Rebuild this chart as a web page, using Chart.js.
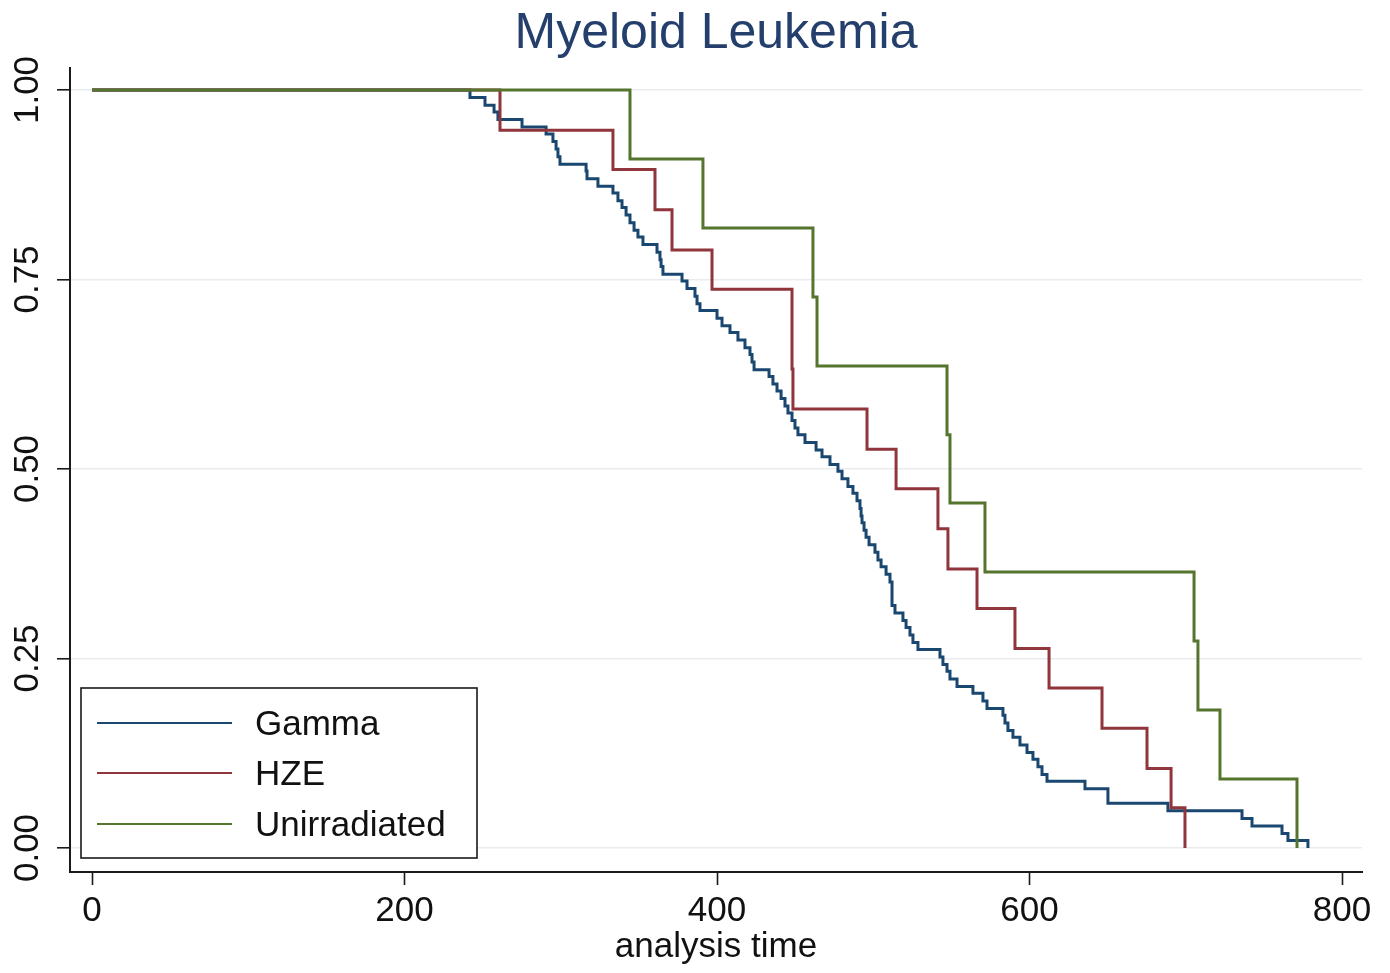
<!DOCTYPE html>
<html>
<head>
<meta charset="utf-8">
<title>Myeloid Leukemia</title>
<script src="https://cdn.jsdelivr.net/npm/chart.js@4/dist/chart.umd.min.js"></script>
<style>
  html, body { margin: 0; padding: 0; background: #ffffff; }
  #wrap { width: 1390px; height: 973px; }
</style>
</head>
<body>
<div id="wrap"><canvas id="km" width="1390" height="973"></canvas></div>
<script>
// Kaplan-Meier survival estimates: time of each drop and survival after it.
const seriesNames = ['Gamma', 'HZE', 'Unirradiated'];

const gammaTimes = [0, 241.9, 251.5, 257.3, 259.8, 275.2, 290.6, 295.0, 297.0, 298.2, 299.5,
  316.2, 316.8, 323.8, 333.4, 336.6, 339.2, 341.8, 344.3, 346.9, 349.4, 352.6,
  361.6, 363.5, 364.2, 365.4, 377.6, 380.8, 385.9, 387.2, 389.1, 400.0, 403.2,
  408.3, 413.4, 417.9, 421.1, 422.4, 423.7, 433.3, 435.8, 438.4, 441.0, 443.5,
  445.4, 448.0, 449.9, 451.8, 456.3, 463.4, 467.2, 472.3, 477.4, 480.0, 483.8,
  487.0, 489.6, 491.5, 492.2, 492.8, 494.1, 495.4, 497.3, 501.1, 503.0, 505.0,
  508.2, 510.7, 512.0, 513.9, 519.0, 521.0, 523.5, 525.4, 528.6, 542.7, 544.6,
  547.2, 549.1, 553.6, 563.8, 570.2, 572.8, 583.0, 584.3, 586.2, 589.4, 593.9,
  598.4, 602.2, 605.4, 608.0, 611.2, 635.5, 650.2, 688.6, 736.0, 742.4, 761.6,
  765.4, 778.2];
const gammaSurv = [1.000, 0.990, 0.980, 0.971, 0.961, 0.951, 0.942, 0.932, 0.922, 0.912, 0.902,
  0.893, 0.883, 0.873, 0.864, 0.854, 0.845, 0.835, 0.825, 0.815, 0.806, 0.796,
  0.786, 0.776, 0.767, 0.757, 0.748, 0.738, 0.728, 0.718, 0.709, 0.699, 0.689,
  0.680, 0.670, 0.660, 0.651, 0.641, 0.631, 0.622, 0.612, 0.603, 0.593, 0.583,
  0.574, 0.564, 0.554, 0.545, 0.535, 0.525, 0.516, 0.506, 0.497, 0.487, 0.477,
  0.468, 0.458, 0.448, 0.438, 0.429, 0.419, 0.410, 0.400, 0.390, 0.380, 0.371,
  0.361, 0.351, 0.320, 0.310, 0.300, 0.291, 0.281, 0.271, 0.262, 0.252, 0.242,
  0.233, 0.223, 0.213, 0.204, 0.194, 0.184, 0.175, 0.165, 0.155, 0.146, 0.136,
  0.126, 0.117, 0.107, 0.097, 0.088, 0.078, 0.059, 0.049, 0.039, 0.029, 0.019,
  0.010, 0.000];

const hzeTimes = [0, 261.1, 333.4, 360.3, 371.2, 396.8, 448.0, 448.6, 496.0, 514.6,
  541.4, 547.8, 566.4, 590.7, 612.5, 646.4, 675.2, 690.6, 699.5];
const hzeSurv = [1.000, 0.947, 0.895, 0.842, 0.789, 0.737, 0.632, 0.579, 0.526, 0.474,
  0.421, 0.368, 0.316, 0.263, 0.211, 0.158, 0.105, 0.053, 0.000];

const unirrTimes = [0, 344.3, 391.0, 461.4, 464.0, 547.2, 549.1, 571.5, 705.3, 707.8, 721.9, 771.2];
const unirrSurv = [1.000, 0.909, 0.818, 0.727, 0.636, 0.545, 0.455, 0.364, 0.273, 0.182, 0.091, 0.000];

const xTickValues = [0, 200, 400, 600, 800];
const yTickValues = [0, 0.25, 0.5, 0.75, 1];
const yTickLabels = ['0.00', '0.25', '0.50', '0.75', '1.00'];

const FONT = "'Liberation Sans', Arial, Helvetica, sans-serif";
const colors = ['#1a476f', '#90353b', '#55752f'];

const toPoints = (ts, ss) => ts.map((t, i) => ({ x: t, y: ss[i] }));

const datasets = [
  { label: seriesNames[0], data: toPoints(gammaTimes, gammaSurv), borderColor: colors[0], order: 2 },
  { label: seriesNames[1], data: toPoints(hzeTimes, hzeSurv), borderColor: colors[1], order: 1 },
  { label: seriesNames[2], data: toPoints(unirrTimes, unirrSurv), borderColor: colors[2], order: 0 }
].map(d => Object.assign(d, {
  stepped: 'before', borderWidth: 3, pointRadius: 0, fill: false, tension: 0,
  borderJoinStyle: 'miter', borderCapStyle: 'butt'
}));

// Title, rotated y labels and the boxed legend.
const decorations = {
  id: 'decorations',
  afterDraw(chart) {
    const { ctx, chartArea } = chart;
    const yScale = chart.scales.y;
    ctx.save();

    // title
    ctx.fillStyle = '#243f6c';
    ctx.font = `50px ${FONT}`;
    ctx.textAlign = 'center';
    ctx.textBaseline = 'middle';
    ctx.fillText('Myeloid Leukemia', (chartArea.left + chartArea.right) / 2, 34);

    // y tick labels, reading upward
    ctx.fillStyle = '#111111';
    ctx.font = `35px ${FONT}`;
    yTickValues.forEach((v, i) => {
      const py = yScale.getPixelForValue(v);
      ctx.save();
      ctx.translate(28, py);
      ctx.rotate(-Math.PI / 2);
      ctx.textAlign = 'center';
      ctx.textBaseline = 'middle';
      ctx.fillText(yTickLabels[i], 0, 0);
      ctx.restore();
    });

    // legend
    const lx = chartArea.left + 11, lw = 396, lh = 170;
    const ly = chartArea.bottom - 14 - lh;
    ctx.fillStyle = '#ffffff';
    ctx.fillRect(lx, ly, lw, lh);
    ctx.strokeStyle = '#1a1a1a';
    ctx.lineWidth = 1.6;
    ctx.strokeRect(lx, ly, lw, lh);
    const rows = [35, 85, 136];
    chart.data.datasets.forEach((ds, i) => {
      const ry = ly + rows[i];
      ctx.strokeStyle = ds.borderColor;
      ctx.lineWidth = 2.2;
      ctx.beginPath();
      ctx.moveTo(lx + 16, ry);
      ctx.lineTo(lx + 151, ry);
      ctx.stroke();
      ctx.fillStyle = '#111111';
      ctx.font = `35px ${FONT}`;
      ctx.textAlign = 'left';
      ctx.textBaseline = 'middle';
      ctx.fillText(ds.label, lx + 174, ry + 2);
    });
    ctx.restore();
  }
};

new Chart(document.getElementById('km'), {
  type: 'line',
  data: { datasets },
  plugins: [decorations],
  options: {
    responsive: false,
    animation: false,
    events: [],
    layout: { padding: { top: 68, right: 28, left: 0, bottom: 0 } },
    plugins: { legend: { display: false }, title: { display: false }, tooltip: { enabled: false } },
    scales: {
      x: {
        type: 'linear',
        min: -14.1,
        max: 812.8,
        afterBuildTicks: (s) => { s.ticks = xTickValues.map(v => ({ value: v })); },
        afterFit: (s) => { s.height = 101; },
        border: { display: true, color: '#1a1a1a', width: 2 },
        grid: { drawOnChartArea: false, drawTicks: true, tickLength: 13, tickColor: '#1a1a1a', tickWidth: 1.6 },
        ticks: {
          color: '#111111',
          font: { family: FONT, size: 35 },
          padding: 5,
          maxRotation: 0,
          autoSkip: false,
          callback: (v) => String(v)
        },
        title: {
          display: true,
          text: 'analysis time',
          color: '#111111',
          font: { family: FONT, size: 35 },
          padding: { top: 0, bottom: 5 }
        }
      },
      y: {
        type: 'linear',
        min: -0.0317,
        max: 1.029,
        afterBuildTicks: (s) => { s.ticks = yTickValues.map(v => ({ value: v })); },
        afterFit: (s) => { s.width = 70; },
        border: { display: true, color: '#1a1a1a', width: 2 },
        grid: { color: '#e8ecef', lineWidth: 1.6, drawTicks: true, tickLength: 13, tickColor: '#1a1a1a', tickWidth: 1.6 },
        ticks: { display: false }
      }
    }
  }
});
</script>
</body>
</html>
